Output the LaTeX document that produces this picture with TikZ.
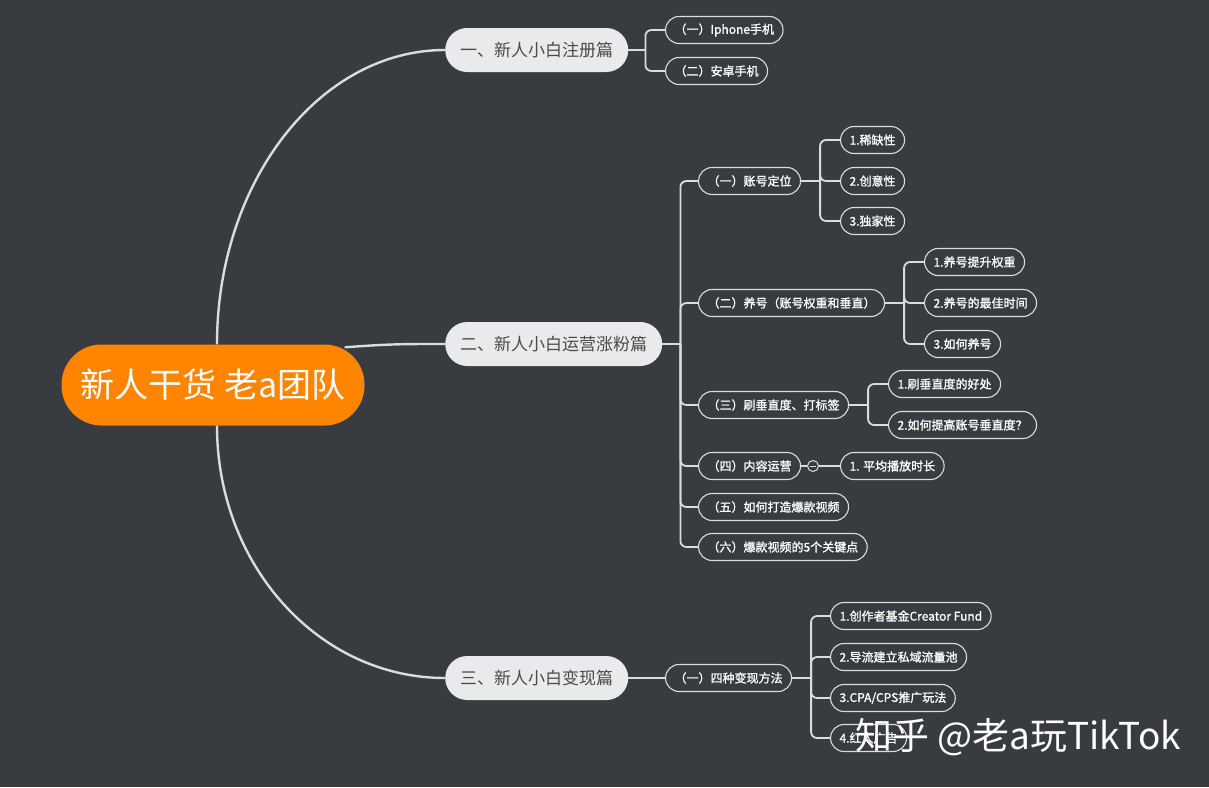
\documentclass[tikz,border=0pt]{standalone}
\usepackage{fontspec}
\newfontfamily\cjk{Noto Sans CJK SC}
\newfontfamily\cjkb[FakeBold=1.3]{Noto Sans CJK SC}
\usetikzlibrary{calc}
\definecolor{bgc}{HTML}{383B40}
\definecolor{org}{HTML}{FF8500}
\definecolor{lvl}{HTML}{E9EAEC}
\definecolor{lvltxt}{HTML}{4A4A4A}
\definecolor{ln}{HTML}{DCDCDC}
\tikzset{
  root/.style={fill=org, text=white, rounded corners=40, minimum height=81, minimum width=303, inner xsep=16, font=\cjk\fontsize{34}{38}\selectfont},
  lone/.style={fill=lvl, text=lvltxt, rounded corners=22, minimum height=44, inner xsep=15, font=\cjk\fontsize{17}{20}\selectfont, anchor=west},
  ltwo/.style={draw=ln, line width=1.1, text=white, rounded corners=13.5, minimum height=27, inner xsep=9, font=\cjkb\fontsize{12}{14}\selectfont, anchor=west},
  conn/.style={draw=ln, line width=2.4},
  tree/.style={draw=ln, line width=1.8, rounded corners=6},
}
\begin{document}
\begin{tikzpicture}[x=1pt,y=-1pt]
\fill[bgc] (0,0) rectangle (1209,787);
\useasboundingbox (0,0) rectangle (1209,787);

% root and level 1
\node[root] (r) at (213,385) {新人干货 老a团队};
\node[lone] (a) at (445,50) {一、新人小白注册篇};
\node[lone] (b) at (445,344) {二、新人小白运营涨粉篇};
\node[lone] (c) at (445,678) {三、新人小白变现篇};

% level 2 under a
\node[ltwo] (a1) at (665,30) {（一）Iphone手机};
\node[ltwo] (a2) at (665,71) {（二）安卓手机};

% level 2 under b
\node[ltwo] (b1) at (698,181) {（一）账号定位};
\node[ltwo] (b2) at (698,303) {（二）养号（账号权重和垂直）};
\node[ltwo] (b3) at (698,405) {（三）刷垂直度、打标签};
\node[ltwo] (b4) at (698,466) {（四）内容运营};
\node[ltwo] (b5) at (698,507) {（五）如何打造爆款视频};
\node[ltwo] (b6) at (698,547) {（六）爆款视频的5个关键点};

% level 3
\node[ltwo] (b11) at (840,140) {1.稀缺性};
\node[ltwo] (b12) at (840,181) {2.创意性};
\node[ltwo] (b13) at (840,221) {3.独家性};
\node[ltwo] (b21) at (924,262) {1.养号提升权重};
\node[ltwo] (b22) at (924,303) {2.养号的最佳时间};
\node[ltwo] (b23) at (924,344) {3.如何养号};
\node[ltwo] (b31) at (888,384) {1.刷垂直度的好处};
\node[ltwo] (b32) at (888,425) {2.如何提高账号垂直度？};
\node[draw=ln, circle, line width=1, minimum size=11, inner sep=0] (m) at (813,466) {};
\node[ltwo] (b41) at (840,466) {1. 平均播放时长};

% level 2/3 under c
\node[ltwo] (c1) at (665,678) {（一）四种变现方法};
\node[ltwo] (c11) at (830,616) {1.创作者基金Creator Fund};
\node[ltwo] (c12) at (830,657) {2.导流建立私域流量池};
\node[ltwo] (c13) at (830,698) {3.CPA/CPS推广玩法};
\node[ltwo] (c14) at (830,738) {4.红人广告};

% main curves
\draw[conn] ($(r.north)+(4,0)$) .. controls ($(r.north)+(4,-162)$) and (319,50) .. (a.west);
\draw[conn] ($(r.north east)+(-20,3)$) .. controls (390,344) and (400,344) .. (b.west);
\draw[conn] ($(r.south)+(4,0)$) .. controls ($(r.south)+(4,140)$) and (319,678) .. (c.west);

% trees
\coordinate (ta) at ($(a.east)+(17,0)$);
\draw[tree] (a.east) -- (ta);
\foreach \k in {a1,a2} \draw[tree] (ta) |- (\k.west);

\coordinate (tb) at ($(b.east)+(18,0)$);
\draw[tree] (b.east) -- (tb);
\foreach \k in {b1,b2,b3,b4,b5,b6} \draw[tree] (tb) |- (\k.west);

\coordinate (tb1) at ($(b1.east)+(19,0)$);
\draw[tree] (b1.east) -- (tb1);
\foreach \k in {b11,b12,b13} \draw[tree] (tb1) |- (\k.west);

\coordinate (tb2) at ($(b2.east)+(19,0)$);
\draw[tree] (b2.east) -- (tb2);
\foreach \k in {b21,b22,b23} \draw[tree] (tb2) |- (\k.west);

\coordinate (tb3) at ($(b3.east)+(19,0)$);
\draw[tree] (b3.east) -- (tb3);
\foreach \k in {b31,b32} \draw[tree] (tb3) |- (\k.west);

\draw[tree] (b4.east) -- (m.west);
\draw[tree] (m.east) -- (b41.west);
\draw[ln, line width=1] ($(m.center)+(-3,0)$) -- ($(m.center)+(3,0)$);

\draw[tree] (c.east) -- (c1.west);
\coordinate (tc) at ($(c1.east)+(19,0)$);
\draw[tree] (c1.east) -- (tc);
\foreach \k in {c11,c12,c13,c14} \draw[tree] (tc) |- (\k.west);

% watermark
\node[anchor=west, text=white, inner sep=0, font=\cjk\fontsize{37}{40}\selectfont] (wm) at (855,737) {知乎 @老a玩TikTok};
\end{tikzpicture}
\end{document}
